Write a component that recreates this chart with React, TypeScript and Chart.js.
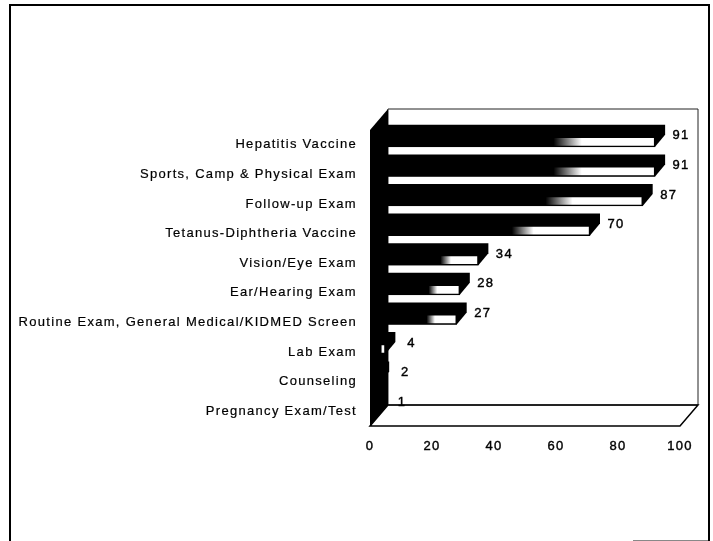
import React, { useEffect, useRef } from "react";
import { Chart, registerables } from "chart.js";
Chart.register(...registerables);

const categories = [
  "Hepatitis Vaccine",
  "Sports, Camp & Physical Exam",
  "Follow-up Exam",
  "Tetanus-Diphtheria Vaccine",
  "Vision/Eye Exam",
  "Ear/Hearing Exam",
  "Routine Exam, General Medical/KIDMED Screen",
  "Lab Exam",
  "Counseling",
  "Pregnancy Exam/Test",
];
const values = [91, 91, 87, 70, 34, 28, 27, 4, 2, 1];
const xTicks = [0, 20, 40, 60, 80, 100];

const FONT = "'Liberation Sans', Arial, sans-serif";
const SPACING = "1.3px";

// 3D look: depth of the box and of the bars, and the bars' shift inside the box depth
const WALL = { dx: 18, dy: 21 };
const BAR = { dx: 10, dy: 12, shiftX: 3, shiftY: 3 };

const threeD = {
  id: "threeD",
  beforeLayout(chart: any) {
    chart.ctx.letterSpacing = SPACING;
  },
  beforeDraw(chart: any) {
    const { ctx, chartArea: a } = chart;
    ctx.letterSpacing = SPACING;
    ctx.save();
    // back wall
    ctx.fillStyle = "#fff";
    ctx.beginPath();
    ctx.rect(a.left + WALL.dx, a.top - WALL.dy, a.width, a.height);
    ctx.fill();
    ctx.lineWidth = 1;
    ctx.strokeStyle = "#222";
    ctx.stroke();
    // floor
    ctx.lineWidth = 1.5;
    ctx.strokeStyle = "#000";
    ctx.beginPath();
    ctx.moveTo(a.left, a.bottom);
    ctx.lineTo(a.right, a.bottom);
    ctx.lineTo(a.right + WALL.dx, a.bottom - WALL.dy);
    ctx.lineTo(a.left + WALL.dx, a.bottom - WALL.dy);
    ctx.closePath();
    ctx.stroke();
    // left wall
    ctx.fillStyle = "#000";
    ctx.beginPath();
    ctx.moveTo(a.left, a.top);
    ctx.lineTo(a.left + WALL.dx, a.top - WALL.dy);
    ctx.lineTo(a.left + WALL.dx, a.bottom - WALL.dy);
    ctx.lineTo(a.left, a.bottom);
    ctx.closePath();
    ctx.fill();
    ctx.restore();
  },
  beforeDatasetsDraw(chart: any) {
    const { ctx } = chart;
    const meta = chart.getDatasetMeta(0);
    ctx.save();
    ctx.translate(BAR.shiftX, -BAR.shiftY);
    ctx.fillStyle = "#000";
    meta.data.forEach((bar: any) => {
      const top = bar.y - bar.height / 2;
      const bottom = bar.y + bar.height / 2;
      ctx.beginPath();
      ctx.moveTo(bar.base, top);
      ctx.lineTo(bar.base + BAR.dx, top - BAR.dy);
      ctx.lineTo(bar.x + BAR.dx, top - BAR.dy);
      ctx.lineTo(bar.x + BAR.dx, bottom - BAR.dy);
      ctx.lineTo(bar.x, bottom);
      ctx.lineTo(bar.base, bottom);
      ctx.closePath();
      ctx.fill();
    });
    ctx.restore();
    ctx.save();
    ctx.translate(BAR.shiftX, -BAR.shiftY);
  },
  afterDatasetsDraw(chart: any) {
    const { ctx } = chart;
    ctx.restore();
    const meta = chart.getDatasetMeta(0);
    ctx.save();
    ctx.fillStyle = "#000";
    ctx.strokeStyle = "#000";
    ctx.lineWidth = 0.4;
    ctx.font = `13px ${FONT}`;
    ctx.textAlign = "center";
    ctx.textBaseline = "middle";
    meta.data.forEach((bar: any, i: number) => {
      ctx.fillText(String(values[i]), bar.x + 29, bar.y - 9);
      ctx.strokeText(String(values[i]), bar.x + 29, bar.y - 9);
    });
    ctx.restore();
  },
};

export default function App() {
  const ref = useRef<HTMLCanvasElement>(null);
  useEffect(() => {
    const chart = new Chart(ref.current!, {
      type: "bar",
      data: {
        labels: categories,
        datasets: [
          {
            data: values,
            barThickness: 10,
            borderColor: "#000",
            borderWidth: 1.5,
            backgroundColor: (c: any) => {
              const x = c.chart.scales?.x;
              if (!x || c.dataIndex === undefined) return "#000";
              const from = x.getPixelForValue(0);
              const to = x.getPixelForValue(values[c.dataIndex]);
              if (!Number.isFinite(from) || !Number.isFinite(to) || to - from < 10) return "#000";
              const g = c.chart.ctx.createLinearGradient(from, 0, to, 0);
              g.addColorStop(0, "#000");
              g.addColorStop(0.64, "#000");
              g.addColorStop(0.74, "#fff");
              g.addColorStop(1, "#fff");
              return g;
            },
          },
        ],
      },
      options: {
        indexAxis: "y",
        animation: false,
        responsive: false,
        layout: { padding: { left: 8, right: 33, top: 130, bottom: 0 } },
        plugins: { legend: { display: false }, tooltip: { enabled: false }, title: { display: false } },
        scales: {
          x: {
            min: 0,
            max: 100,
            afterBuildTicks: (s: any) => {
              s.ticks = xTicks.map((value) => ({ value }));
            },
            afterFit: (s: any) => {
              s.height = 115;
            },
            grid: { display: false },
            border: { display: false },
            ticks: {
              color: "#000",
              font: { family: FONT, size: 13 },
              padding: 5,
              maxRotation: 0,
              textStrokeColor: "#000",
              textStrokeWidth: 0.4,
            },
          },
          y: {
            afterFit: (s: any) => {
              s.width = 362;
            },
            grid: { display: false },
            border: { display: false },
            ticks: {
              color: "#000",
              font: { family: FONT, size: 13 },
              padding: 5,
              autoSkip: false,
              textStrokeColor: "#000",
              textStrokeWidth: 0.2,
            },
          },
        },
      },
      plugins: [threeD],
    } as any);
    return () => chart.destroy();
  }, []);
  return (
    <div style={{ position: "absolute", left: 0, top: 0, width: 713, height: 541, overflow: "hidden", background: "#fff" }}>
      <canvas ref={ref} width={713} height={541} style={{ position: "absolute", left: 0, top: 0 }} />
      <div style={{ position: "absolute", left: 9, top: 4, width: 697, height: 560, border: "2px solid #000" }} />
      <div style={{ position: "absolute", left: 633, top: 540, width: 75, height: 1, background: "#888" }} />
    </div>
  );
}
